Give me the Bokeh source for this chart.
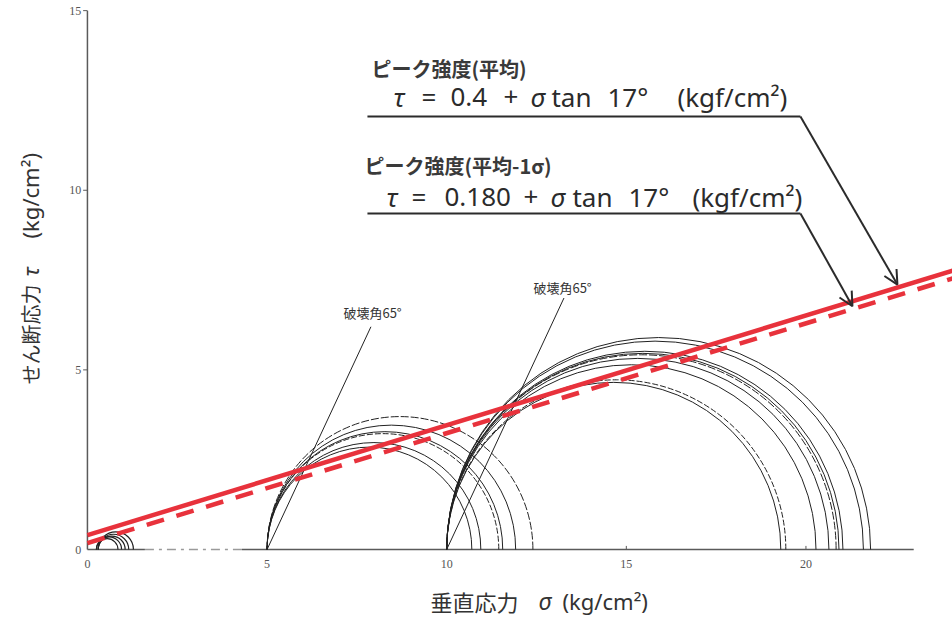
import numpy as np
from bokeh.plotting import figure
from bokeh.models import Range1d, Arrow, OpenHead
from bokeh.core.properties import value
from bokeh.embed import file_html
from bokeh.resources import INLINE

# ---- data -------------------------------------------------------------
# Mohr circles: minor (sigma3) and major (sigma1) principal stresses, kg/cm2
origin_s3 = [0.25, 0.25, 0.3, 0.3, 0.3]
origin_s1 = [0.85, 0.95, 1.05, 1.15, 1.28]
mid_s3 = [5, 5, 5, 5, 5, 5]
mid_s1 = [10.7, 10.95, 11.45, 11.56, 11.92, 12.4]
high_s3 = [10, 10, 10, 10, 10, 10, 10, 10, 10]
high_s1 = [19.3, 19.44, 20.28, 20.64, 20.84, 20.92, 21.03, 21.6, 21.8]

# failure envelopes: tau = c + sigma * tan(phi)
c_mean = 0.4
c_minus = 0.180
phi_deg = 17

# failure plane angle drawn from sigma3 of the two larger groups
failure_angle = 65
failure_from = [5, 10]
failure_top = [6.2, 7.0]

x_ticks = [0, 5, 10, 15, 20]
y_ticks = [0, 5, 10, 15]

# ---- figure -----------------------------------------------------------
PX = 35.925  # screen pixels per kg/cm2 (same on both axes)
p = figure(width=952, height=617,
           x_range=Range1d(-2.42, -2.42 + 952 / PX),
           y_range=Range1d(-68 / PX, 549 / PX),
           output_backend="svg", toolbar_location=None,
           x_axis_location=None, y_axis_location=None, min_border=0)
p.grid.visible = False
p.outline_line_color = None
p.background_fill_color = "white"
p.border_fill_color = "white"

def px(x):
    return (x - 87) / PX

def py(y):
    return (549 - y) / PX

AX = "#5a5a5a"
# y axis
p.line([0, 0], [0, 15], line_color=AX, line_width=1.5)
for t in y_ticks[1:]:
    p.line([-0.12, 0], [t, t], line_color=AX, line_width=1)
# x axis (with the broken stretch of the original plot)
p.line([0, 1.6], [0, 0], line_color=AX, line_width=1.5)
p.line([1.6, 4.3], [0, 0], line_color="#9a9a9a", line_width=1.3, line_dash="9 5 3 5")
p.line([4.3, 23.0], [0, 0], line_color=AX, line_width=1.5)
for t in x_ticks[1:]:
    p.line([t, t], [0, 0.1], line_color=AX, line_width=1)

tick_font = value("Liberation Serif")
p.text(x=[-0.17] * len(y_ticks), y=y_ticks, text=[str(t) for t in y_ticks],
       text_font=tick_font, text_font_size="12px", text_color="#555555",
       text_align="right", text_baseline="middle")
p.text(x=x_ticks, y=[-0.3] * len(x_ticks), text=[str(t) for t in x_ticks],
       text_font=tick_font, text_font_size="12px", text_color="#555555",
       text_align="center", text_baseline="top")

# ---- Mohr circles -----------------------------------------------------
def circles(s3, s1, dashes, width=1.0):
    s3 = np.array(s3, float)
    s1 = np.array(s1, float)
    for c, r, d in zip((s3 + s1) / 2, (s1 - s3) / 2, dashes):
        p.arc(x=c, y=0, radius=r, start_angle=0, end_angle=np.pi,
              line_color="#222222", line_width=width, line_dash=d)

circles(origin_s3, origin_s1, ["solid"] * 5, 1.2)
circles(mid_s3, mid_s1, ["solid", "solid", "6 2", "solid", "solid", "8 2"])
circles(high_s3, high_s1, ["solid", "6 2", "solid", "solid", "8 2", "solid", "solid", "solid", "solid"])

# failure plane lines
t65 = np.tan(np.radians(failure_angle))
for s, h in zip(failure_from, failure_top):
    p.line([s, s + h / t65], [0, h], line_color="#222222", line_width=1)

jp = value("Noto Sans CJK JP")
latin = value("Noto Sans")
p.text(x=[px(343), px(533)], y=[py(312), py(287)], text=["破壊角65°", "破壊角65°"],
       text_font=jp, text_font_size="13px", text_color="#333333",
       text_align="left", text_baseline="middle")

# ---- failure envelopes --------------------------------------------------
tan_phi = np.tan(np.radians(phi_deg))
env_x = np.array([0.0, 24.5])
RED = "#e8323c"
p.line(env_x, c_mean + env_x * tan_phi, line_color=RED, line_width=4.5)
p.line(env_x, c_minus + env_x * tan_phi, line_color=RED, line_width=4.5,
       line_dash="18 13")

# ---- annotations -------------------------------------------------------
DARK = "#2b2b2b"

def label_block(title, title_x, title_y, pieces, eq_y, under_y, tip_x, c):
    p.text(x=[px(title_x)], y=[py(title_y)], text=[title], text_font=jp,
           text_font_size="20px", text_font_style="bold", text_color="#3a3a3a",
           text_baseline="middle")
    for s, x0, it in pieces:
        p.text(x=[px(x0)], y=[py(eq_y)], text=[s], text_font=latin,
               text_font_size="26px", text_font_style="italic" if it else "normal",
               text_color=DARK, text_baseline="middle")
    p.line([px(367), px(800)], [py(under_y)] * 2, line_color=DARK, line_width=2)
    tx = px(tip_x)
    p.add_layout(Arrow(x_start=px(800), y_start=py(under_y), x_end=tx,
                       y_end=c + tx * tan_phi + 0.08,
                       line_color=DARK, line_width=2,
                       end=OpenHead(size=14, line_color=DARK, line_width=2)))

label_block("ピーク強度(平均)", 371, 68,
            [("τ", 393, True), ("=", 421, False), ("0.4", 450, False),
             ("+", 503, False), ("σ", 530, True), ("tan", 551, False),
             ("17°", 607, False), ("(kgf/cm²)", 677, False)],
            96, 116, 897, c_mean)
label_block("ピーク強度(平均-1σ)", 364, 165,
            [("τ", 386, True), ("=", 411, False), ("0.180", 444, False),
             ("+", 523, False), ("σ", 550, True), ("tan", 572, False),
             ("17°", 628, False), ("(kgf/cm²)", 692, False)],
            196, 213, 852, c_minus)

# axis titles
XT = "#333333"
for s, x0, f, size, st in [("垂直応力", 430, jp, "22px", "normal"),
                           ("σ", 538, latin, "23px", "italic"),
                           ("(kg/cm²)", 562, latin, "22px", "normal")]:
    p.text(x=[px(x0)], y=[py(600)], text=[s], text_font=f, text_font_size=size,
           text_font_style=st, text_color=XT, text_align="left",
           text_baseline="middle")
for s, y0, f, size, st in [("せん断応力", 384, jp, "20px", "normal"),
                           ("τ", 276, latin, "22px", "italic"),
                           ("(kg/cm²)", 238, latin, "22px", "normal")]:
    p.text(x=[px(30)], y=[py(y0)], text=[s], text_font=f, text_font_size=size,
           text_font_style=st, text_color=XT, text_align="left",
           text_baseline="middle", angle=np.pi / 2)

open("out.html", "w").write(file_html(p, INLINE))
